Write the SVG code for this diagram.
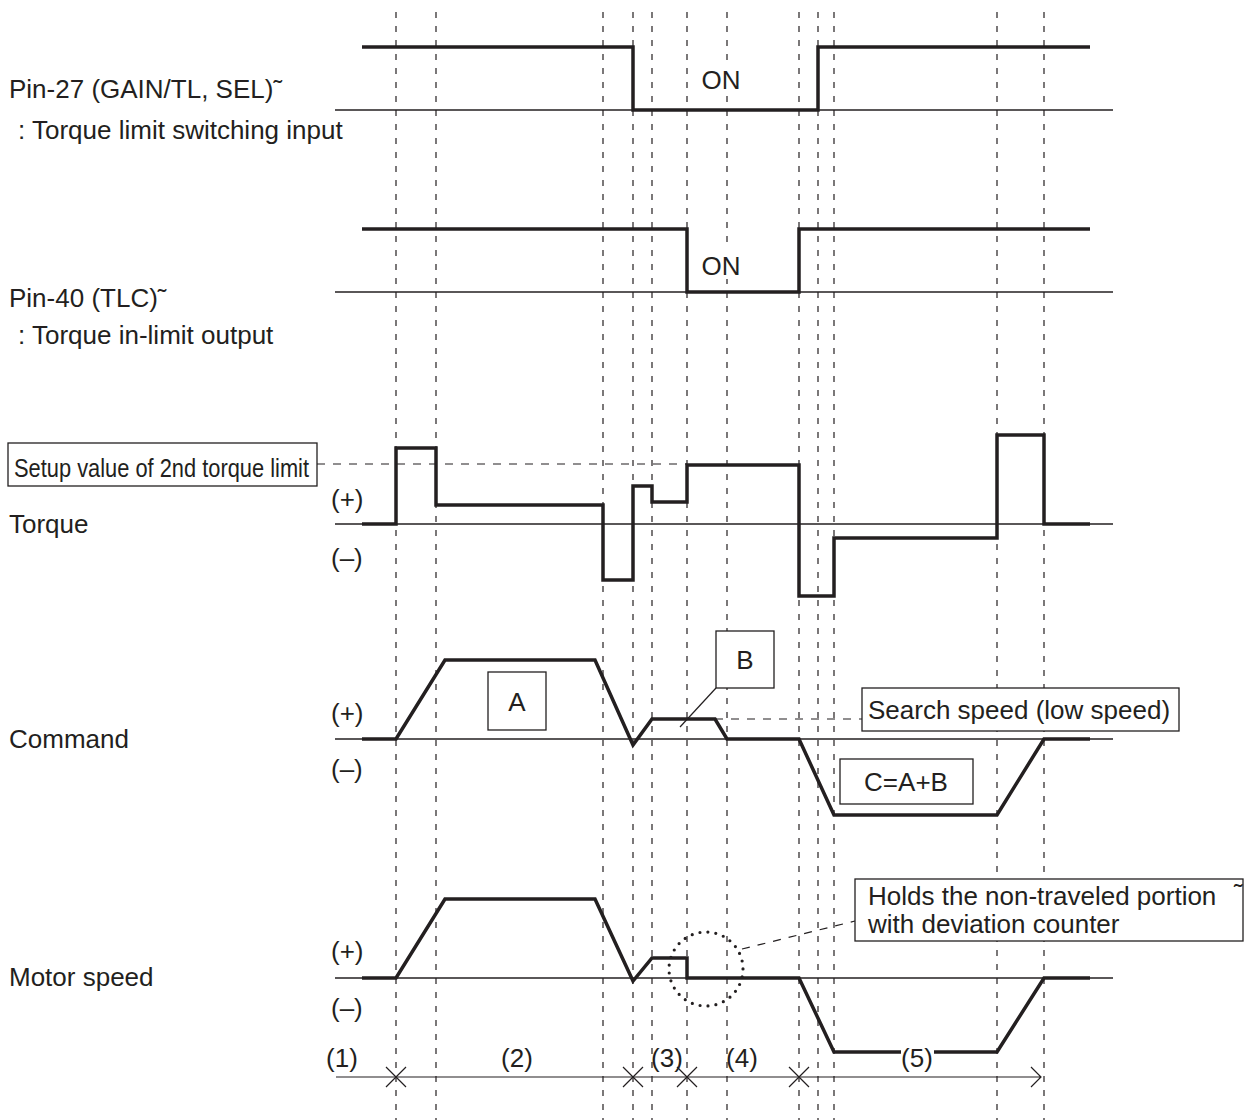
<svg xmlns="http://www.w3.org/2000/svg" width="1251" height="1120" viewBox="0 0 1251 1120">
<style>
text{font-family:"Liberation Sans",Arial,Helvetica,sans-serif;fill:#231f20;font-size:26px}
.vd{stroke:#231f20;stroke-width:1.2;stroke-dasharray:6 8;fill:none}
.hd{stroke:#231f20;stroke-width:1.2;stroke-dasharray:8 8;fill:none}
.base{stroke:#231f20;stroke-width:1.3;fill:none}
.trace{stroke:#231f20;stroke-width:3.5;fill:none;stroke-linejoin:miter}
.box{fill:#fff;stroke:#231f20;stroke-width:1.3}
.thin{stroke:#231f20;stroke-width:1.2;fill:none}
.mid{text-anchor:middle}
</style>
<rect width="1251" height="1120" fill="#fff"/>
<g id="grid">
<path class="vd" d="M396,12V1120M436,12V1120M603,12V1120M633,12V1120M652,12V1120M687,12V1120M727,12V1120M799,12V1120M818,12V1120M834,12V1120M997,12V1120M1044,12V1120"/>
</g>
<g id="labels">
<text x="9" y="98">Pin-27 (GAIN/TL, SEL)˜</text>
<text x="18" y="139">: Torque limit switching input</text>
<text x="9" y="307">Pin-40 (TLC)˜</text>
<text x="18" y="344">: Torque in-limit output</text>
<text x="9" y="533">Torque</text>
<text x="9" y="748">Command</text>
<text x="9" y="986">Motor speed</text>
<text x="331" y="508">(+)</text>
<text x="331" y="567">(–)</text>
<text x="331" y="722">(+)</text>
<text x="331" y="778">(–)</text>
<text x="331" y="960">(+)</text>
<text x="331" y="1017">(–)</text>
</g>
<g id="pin27">
<path class="base" d="M335,110H1113"/>
<path class="trace" d="M362,47H633V110H818V47H1090"/>
<rect x="700" y="62" width="42" height="30" fill="#fff"/>
<text class="mid" x="721" y="89">ON</text>
</g>
<g id="pin40">
<path class="base" d="M335,292H1113"/>
<path class="trace" d="M362,229H687V292H799V229H1090"/>
<rect x="700" y="249" width="42" height="30" fill="#fff"/>
<text class="mid" x="721" y="275">ON</text>
</g>
<g id="torque">
<path class="base" d="M335,524H1113"/>
<path class="hd" d="M317,464H687"/>
<path class="trace" d="M362,524H396V448H436V505H603V580H633V486H652V502H687V465H799V596H834V538H997V435H1044V524H1090"/>
</g>
<g id="setup-box">
<rect class="box" x="8" y="443" width="309" height="43"/>
<text x="14" y="477" font-size="29" textLength="295" lengthAdjust="spacingAndGlyphs">Setup value of 2nd torque limit</text>
</g>
<g id="command">
<path class="base" d="M335,739H1113"/>
<path class="hd" d="M715,719H862"/>
<path class="trace" d="M362,739H396L445,660H595L633,745L652,719H715L727,739H799L834,815H997L1044,739H1090"/>
</g>
<g id="box-a">
<rect class="box" x="488" y="672" width="58" height="58"/>
<text class="mid" x="517" y="711">A</text>
</g>
<g id="box-b">
<path class="thin" d="M716,688L680,727"/>
<rect class="box" x="716" y="631" width="58" height="57"/>
<text class="mid" x="745" y="669">B</text>
</g>
<g id="search-box">
<rect class="box" x="862" y="688" width="317" height="43"/>
<text x="868" y="719">Search speed (low speed)</text>
</g>
<g id="box-c">
<rect class="box" x="840" y="759" width="133" height="45"/>
<text class="mid" x="906" y="791">C=A+B</text>
</g>
<g id="motor">
<path class="base" d="M335,978H1113"/>
<path class="trace" d="M362,978H396L445,899H595L633,981L652,958H687V978H799L834,1052H997L1044,978H1090"/>
<circle cx="706" cy="969" r="37" fill="none" stroke="#231f20" stroke-width="3.2" stroke-linecap="round" stroke-dasharray="0 8"/>
<path class="hd" d="M742,949L855,921"/>
</g>
<g id="holds-box">
<rect class="box" x="855" y="879" width="388" height="62"/>
<text x="868" y="905">Holds the non-traveled portion</text>
<text x="1234" y="902" font-size="28">˜</text>
<text x="868" y="933">with deviation counter</text>
</g>
<g id="timeline">
<path class="thin" d="M336,1077H1041M1031,1067L1041,1077L1031,1087"/>
<path class="thin" d="M386,1067L406,1087M386,1087L406,1067M623,1067L643,1087M623,1087L643,1067M677,1067L697,1087M677,1087L697,1067M789,1067L809,1087M789,1087L809,1067"/>
<text class="mid" x="342" y="1067">(1)</text>
<text class="mid" x="517" y="1067">(2)</text>
<text class="mid" x="667" y="1067">(3)</text>
<text class="mid" x="742" y="1067">(4)</text>
<rect x="901" y="1042" width="33" height="28" fill="#fff"/>
<text class="mid" x="917" y="1067">(5)</text>
</g>
</svg>
